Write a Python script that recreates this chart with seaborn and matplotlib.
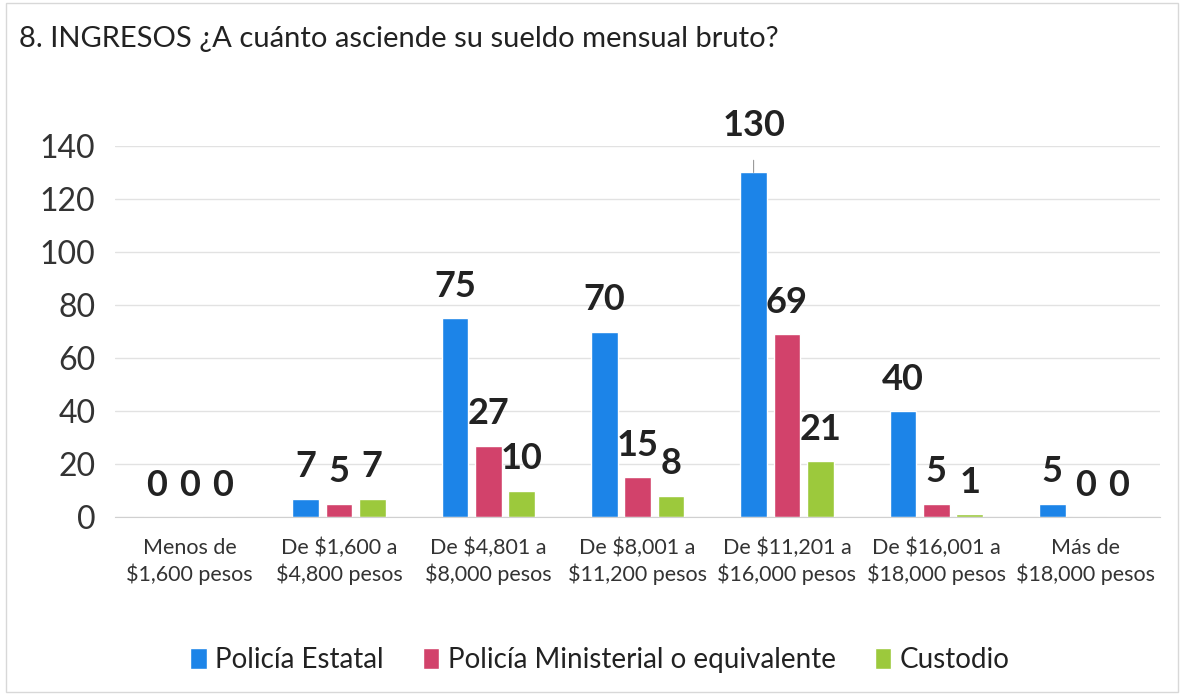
import pandas as pd
import matplotlib.pyplot as plt
import seaborn as sns
from matplotlib.patches import Rectangle

# salary ranges (x axis) and counts per group
categorias = ["Menos de\n$1,600 pesos", "De $1,600 a\n$4,800 pesos", "De $4,801 a\n$8,000 pesos",
              "De $8,001 a\n$11,200 pesos", "De $11,201 a\n$16,000 pesos", "De $16,001 a\n$18,000 pesos",
              "Más de\n$18,000 pesos"]
estatal = [0, 7, 75, 70, 130, 40, 5]
ministerial = [0, 5, 27, 15, 69, 5, 0]
custodio = [0, 7, 10, 8, 21, 1, 0]
series = ["Policía Estatal", "Policía Ministerial o equivalente", "Custodio"]
colores = ["#1c84e8", "#d2426b", "#9cc93c"]

df = pd.DataFrame({"Rango": categorias * 3,
                   "Grupo": [series[0]] * 7 + [series[1]] * 7 + [series[2]] * 7,
                   "Valor": estatal + ministerial + custodio})

sns.set_style("white")
plt.rcParams['font.family'] = ['Lato', 'DejaVu Sans']

fig = plt.figure(figsize=(11.84, 6.95), dpi=100)
ax = fig.add_axes([0.097, 0.256, 0.883, 0.534])

sns.barplot(data=df, x="Rango", y="Valor", hue="Grupo", palette=colores, saturation=1,
            width=0.67, gap=0.2, ax=ax, legend=True)

ax.set_ylim(0, 140)
ax.set_yticks(range(0, 141, 20))
ax.yaxis.grid(True, color="#e2e2e2", linewidth=1)
ax.set_axisbelow(True)
ax.set_xlabel("")
ax.set_ylabel("")
for s in ["top", "right", "left"]:
    ax.spines[s].set_visible(False)
ax.spines["bottom"].set_color("#d0d0d0")
ax.tick_params(axis="y", labelsize=23, colors="#333333", length=0, pad=14)
ax.tick_params(axis="x", labelsize=15.5, colors="#333333", length=0, pad=15)
for t in ax.get_xticklabels():
    t.set_linespacing(1.3)

# data labels
for cont in ax.containers:
    for bar in cont:
        h = bar.get_height()
        xc = bar.get_x() + bar.get_width() / 2
        if h >= 130:
            ax.annotate(f"{int(h)}", xy=(xc, h), xytext=(0, 34), textcoords="offset points",
                        ha="center", va="center", fontsize=26, fontweight="bold", color="#222222",
                        annotation_clip=False,
                        arrowprops=dict(arrowstyle="-", color="#999999", lw=0.8, shrinkA=11, shrinkB=0))
        else:
            ax.annotate(f"{int(h)}", xy=(xc, h), xytext=(0, 23), textcoords="offset points",
                        ha="center", va="center", fontsize=26, fontweight="bold", color="#222222",
                        annotation_clip=False)

ax.legend(loc="center", bbox_to_anchor=(0.464, -0.386), ncol=3, frameon=False, fontsize=20,
          handlelength=0.6, handleheight=0.8, handletextpad=0.3, columnspacing=1.4,
          labelcolor="#222222")

fig.text(0.016, 0.944, "8. INGRESOS ¿A cuánto asciende su sueldo mensual bruto?", fontsize=21,
         color="#222222", va="center", ha="left")

fig.patches.append(Rectangle((0.005, 0.005), 0.99, 0.99, transform=fig.transFigure,
                             fill=False, edgecolor="#d8d8d8", linewidth=1))

fig.savefig("out.png", dpi=100)
